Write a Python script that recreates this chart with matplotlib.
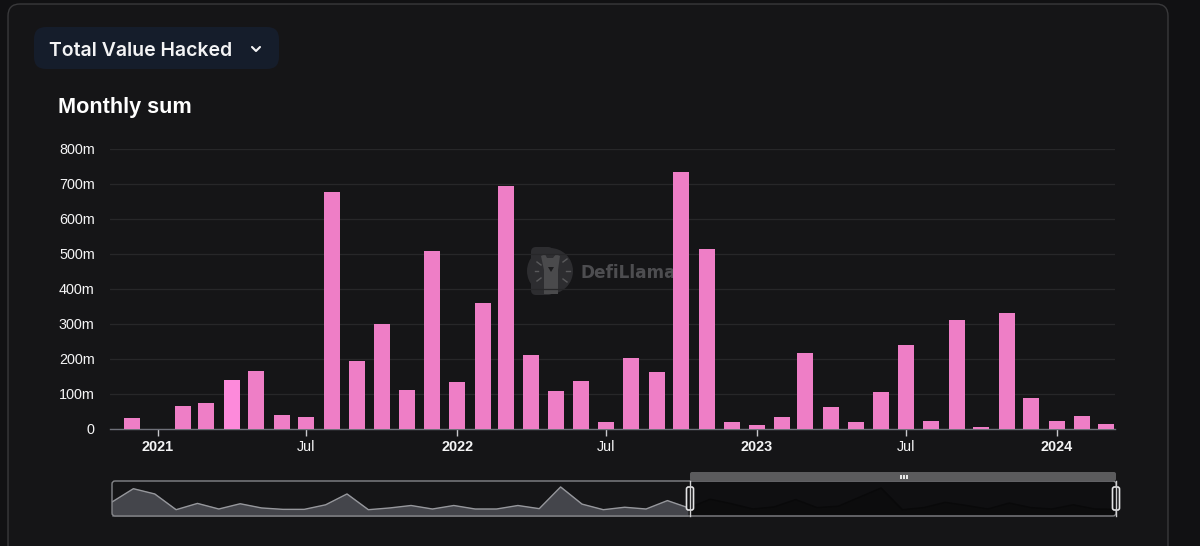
#!/usr/bin/env python3
"""DefiLlama style monthly hacked value chart, with the dataZoom strip below."""

import matplotlib

matplotlib.use("Agg")
import matplotlib.pyplot as plt
import pandas as pd
from matplotlib.patches import Circle, FancyBboxPatch, Polygon, Rectangle

W, H = 1200, 546

OUTER = "#111113"
CARD = "#151517"
BORDER = "#39393b"
BUTTON = "#151d2b"
PINK = "#ee7ec6"
PINK_HOT = "#fd8adb"
GRID = "#272729"
TEXT = "#f4f4f5"

# monthly sum in millions
months = pd.date_range("2020-12-01", "2024-03-01", freq="MS")
hacked = [
    30, 0, 64, 73, 140, 165, 40, 33, 677, 192, 300, 110, 508, 133, 360, 693,
    210, 108, 137, 20, 202, 162, 735, 515, 20, 10, 32, 215, 62, 18, 105, 240,
    22, 310, 5, 332, 87, 22, 35, 12,
]
hot_month = pd.Timestamp("2021-04-01")

y_ticks = [0, 100, 200, 300, 400, 500, 600, 700, 800]
y_labels = ["0", "100m", "200m", "300m", "400m", "500m", "600m", "700m", "800m"]
x_ticks = pd.to_datetime(
    ["2021-01-01", "2021-07-01", "2022-01-01", "2022-07-01",
     "2023-01-01", "2023-07-01", "2024-01-01"]
)
x_labels = ["2021", "Jul", "2022", "Jul", "2023", "Jul", "2024"]

# overview strip, as a fraction of the strip height
overview_before = [
    .40, .78, .63, .18, .36, .20, .35, .23, .19, .19, .32, .63, .18, .23,
    .30, .20, .30, .20, .20, .30, .21, .83, .34, .18, .25, .20, .44, .23,
]
overview_window = [
    .23, .48, .35, .20, .26, .47, .24, .28, .54, .80, .18, .24, .39, .30,
    .20, .37, .24, .20, .32, .20, .19,
]


def px_axes(fig, left, top, right, bottom, **kw):
    """Axes placed by pixel box, y counted from the top of the image."""
    return fig.add_axes(
        [left / W, 1 - bottom / H, (right - left) / W, (bottom - top) / H], **kw
    )


def draw_chrome(ax):
    ax.add_patch(FancyBboxPatch(
        (8, 4), 1160, 600, boxstyle="round,pad=0,rounding_size=12",
        facecolor=CARD, edgecolor=BORDER, linewidth=1,
    ))
    ax.add_patch(FancyBboxPatch(
        (34, 27), 245, 42, boxstyle="round,pad=0,rounding_size=12",
        facecolor=BUTTON, edgecolor="none",
    ))
    ax.text(49, 50.5, "Total Value Hacked", color=TEXT, fontsize=14.0,
            family="Inter", fontweight="semibold", ha="left", va="center")
    ax.plot([252, 256, 260], [47, 51, 47], color=TEXT, lw=1.5,
            solid_capstyle="round", solid_joinstyle="round")
    ax.text(58, 107.5, "Monthly sum", color="white", fontsize=15.6,
            family="Liberation Sans", fontweight="bold", ha="left", va="center")

    # watermark, sits under the grid and the bars
    ax.add_patch(FancyBboxPatch(
        (531, 247), 22, 48, boxstyle="round,pad=0,rounding_size=5",
        facecolor="#2d2d30", edgecolor="none",
    ))
    ax.add_patch(Circle((550, 271), 23, facecolor="#2d2d30", edgecolor="none"))
    ax.add_patch(Polygon(
        [(541, 256), (545, 254), (547, 258), (553, 258), (556, 254), (560, 256),
         (558, 270), (558, 294), (544, 294), (544, 270)],
        closed=True, facecolor="#4a4a4c", edgecolor="none",
    ))
    ax.add_patch(Polygon([(548, 267), (554, 267), (551, 272)], closed=True,
                         facecolor="#1d1d1f", edgecolor="none"))
    for x0, y0, x1, y1 in [(537, 262, 541, 265), (535, 271, 538, 271), (537, 281, 541, 278),
                           (563, 262, 567, 259), (566, 271, 570, 271), (563, 279, 567, 282)]:
        ax.plot([x0, x1], [y0, y1], color="#5a5a5c", lw=1)
    ax.text(581, 272.5, "DefiLlama", color="#4d4d50", fontsize=12.2,
            family="DejaVu Sans", fontweight="bold", ha="left", va="center")


def draw_bars(ax):
    colors = [PINK_HOT if m == hot_month else PINK for m in months]
    ax.bar(months, hacked, width=19.5, color=colors, zorder=3)
    ax.set_xlim(pd.Timestamp("2020-11-04"), pd.Timestamp("2024-03-12"))
    ax.set_ylim(0, 800)
    ax.set_yticks(y_ticks, y_labels)
    ax.set_xticks(x_ticks, x_labels)
    ax.grid(True, axis="y", color=GRID, lw=0.9, zorder=0)
    ax.set_axisbelow(True)
    ax.tick_params(axis="y", length=0, pad=11, labelcolor=TEXT, labelsize=10.4)
    ax.tick_params(axis="x", length=5, width=1, color="#c8c8cc", pad=3,
                   labelcolor=TEXT, labelsize=10.4)
    for lab in ax.get_yticklabels():
        lab.set_family("Liberation Sans")
    for lab in ax.get_xticklabels():
        lab.set_family("Liberation Sans")
        if lab.get_text().isdigit():
            lab.set_fontweight("bold")
    for name, spine in ax.spines.items():
        spine.set_visible(name == "bottom")
    ax.spines["bottom"].set_color("#6e7079")
    ax.spines["bottom"].set_linewidth(1)


def draw_overview(ax):
    n_before = len(overview_before)
    x_before = range(n_before)
    x_window = range(n_before - 1, n_before - 1 + len(overview_window))
    ax.set_xlim(0, x_window[-1])
    ax.set_ylim(0, 1)
    ax.axvspan(x_window[0], x_window[-1], facecolor="#0f0f11", edgecolor="none", zorder=0)
    ax.fill_between(x_before, overview_before, color="#44454b", zorder=1)
    ax.plot(x_before, overview_before, color="#96979c", lw=1, zorder=2)
    ax.fill_between(x_window, overview_window, color="#0c0c0d", zorder=1)
    ax.plot(x_window, overview_window, color="#09090a", lw=1, zorder=2)
    ax.axis("off")


def draw_slider(ax):
    ax.add_patch(FancyBboxPatch(
        (112, 481), 1004, 35, boxstyle="round,pad=0,rounding_size=3",
        facecolor="none", edgecolor="#85868a", linewidth=1.0,
    ))
    ax.add_patch(FancyBboxPatch(
        (690, 472), 426, 9, boxstyle="round,pad=0,rounding_size=2",
        facecolor="#5b5b5d", edgecolor="none",
    ))
    for x in (900, 903, 906):
        ax.add_patch(Rectangle((x, 475), 1.8, 4, facecolor="#e8e8e8", edgecolor="none"))
    for x in (690, 1116):
        ax.plot([x, x], [481, 516], color="#d0d0d2", lw=1)
        ax.add_patch(FancyBboxPatch(
            (x - 3.5, 487), 7, 23, boxstyle="round,pad=0,rounding_size=2",
            facecolor="#0f0f11", edgecolor="#e4e4e6", linewidth=1.2,
        ))


def main():
    fig = plt.figure(figsize=(W / 100, H / 100), dpi=100, facecolor=OUTER)

    base = fig.add_axes([0, 0, 1, 1], zorder=0)
    base.set_xlim(0, W)
    base.set_ylim(H, 0)
    base.axis("off")
    draw_chrome(base)

    chart = px_axes(fig, 110, 149, 1115, 428.5, zorder=1, facecolor="none")
    draw_bars(chart)

    strip = px_axes(fig, 112, 481, 1116, 516, zorder=2, facecolor="none")
    draw_overview(strip)

    top = fig.add_axes([0, 0, 1, 1], zorder=3, facecolor="none")
    top.set_xlim(0, W)
    top.set_ylim(H, 0)
    top.axis("off")
    draw_slider(top)

    fig.savefig("out.png", dpi=100, facecolor=OUTER)


if __name__ == "__main__":
    main()
